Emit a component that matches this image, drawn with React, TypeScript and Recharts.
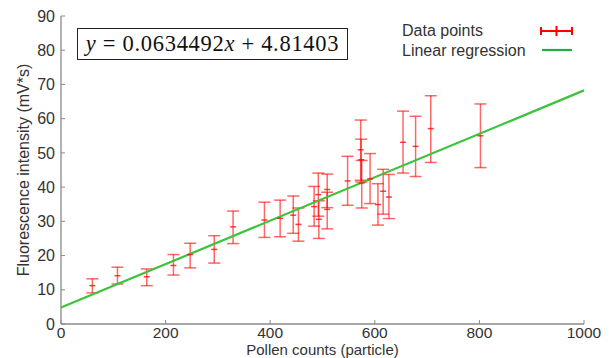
import React from 'react';
import { ComposedChart, Scatter, XAxis, YAxis, ErrorBar } from 'recharts';

const pollenCounts = [60, 108, 164, 215, 247, 293, 329, 389, 419, 444, 454, 484, 492, 493, 509, 509, 548, 573, 574, 575, 591, 606, 616, 627, 654, 678, 707, 802];
const intensity = [11.2, 14.1, 13.8, 17.1, 20.3, 21.8, 28.4, 30.4, 30.9, 31.8, 29.1, 34.3, 37.8, 30.6, 39.3, 33.5, 41.8, 50.9, 48.0, 41.2, 42.4, 34.9, 38.8, 37.1, 53.1, 51.9, 57.1, 55.0];
const errPlus = [2.0, 2.5, 2.3, 3.2, 3.3, 4.0, 4.6, 5.2, 5.3, 5.6, 4.8, 5.9, 6.3, 5.4, 4.5, 5.0, 7.2, 8.7, 6.0, 6.6, 7.4, 6.1, 6.4, 6.6, 9.1, 8.8, 9.6, 9.3];
const errMinus = [2.1, 2.4, 2.6, 2.8, 3.9, 4.0, 4.9, 5.1, 5.4, 5.3, 4.9, 5.7, 6.3, 5.6, 5.3, 5.7, 7.1, 8.9, 6.5, 7.3, 7.2, 6.0, 6.7, 6.3, 9.0, 8.8, 9.9, 9.3];

const regressionX = [0, 1000];
const regressionY = [4.81403, 68.26323];

const xTicks = [0, 200, 400, 600, 800, 1000];
const yTicks = [0, 10, 20, 30, 40, 50, 60, 70, 80, 90];

const points = pollenCounts.map((x, i) => ({ x, y: intensity[i], err: [errMinus[i], errPlus[i]] }));
const regression = regressionX.map((x, i) => ({ x, y: regressionY[i] }));

const FONT = '"Liberation Sans", Arial, sans-serif';
const RED = '#ff0000';
const GREEN = '#3cc23c';
const AXIS = '#8a8a8a';
const TEXT = '#333333';

const yTickStyle = { fontFamily: FONT, fontSize: 16, fill: TEXT };
const xTickStyle = { fontFamily: FONT, fontSize: 15.5, fill: TEXT };

const PointMark = (props: any) => {
  const { cx, cy } = props;
  if (cx == null || cy == null) return <g />;
  return <line x1={cx - 3} x2={cx + 3} y1={cy} y2={cy} stroke={RED} strokeOpacity={0.75} strokeWidth={1.5} />;
};

const NoMark = () => <g />;

export default function App() {
  return (
    <div style={{ position: 'absolute', left: 0, top: 0, width: 611, height: 358, background: '#fff' }}>
      <ComposedChart width={611} height={358} margin={{ top: 16, right: 27, left: 0, bottom: 0 }}>
        <XAxis
          xAxisId="b"
          type="number"
          dataKey="x"
          domain={[0, 1000]}
          ticks={xTicks}
          interval={0}
          height={34}
          axisLine={{ stroke: AXIS, strokeWidth: 1.3 }}
          tickLine={{ stroke: AXIS }}
          tickSize={-4}
          tickMargin={7}
          tick={xTickStyle}
          label={{ value: 'Pollen counts (particle)', position: 'insideBottom', offset: 3, style: { fontFamily: FONT, fontSize: 15, fill: TEXT } }}
        />
        <XAxis
          xAxisId="t"
          orientation="top"
          type="number"
          dataKey="x"
          domain={[0, 1000]}
          ticks={xTicks}
          interval={0}
          height={0}
          axisLine={{ stroke: AXIS, strokeWidth: 1.3 }}
          tickLine={{ stroke: AXIS }}
          tickSize={-4}
          tick={false}
        />
        <YAxis
          yAxisId="l"
          type="number"
          dataKey="y"
          domain={[0, 90]}
          ticks={yTicks}
          interval={0}
          width={61}
          axisLine={{ stroke: AXIS, strokeWidth: 1.3 }}
          tickLine={{ stroke: AXIS }}
          tickSize={-4}
          tickMargin={10}
          tick={yTickStyle}
          label={{ value: 'Fluorescence intensity (mV*s)', angle: -90, position: 'insideLeft', offset: 23, style: { textAnchor: 'middle', fontFamily: FONT, fontSize: 16, fill: TEXT } }}
        />
        <YAxis
          yAxisId="r"
          orientation="right"
          type="number"
          dataKey="y"
          domain={[0, 90]}
          ticks={yTicks}
          interval={0}
          width={0}
          axisLine={{ stroke: AXIS, strokeWidth: 1.3 }}
          tickLine={{ stroke: AXIS }}
          tickSize={-4}
          tick={false}
        />
        <Scatter
          xAxisId="b"
          yAxisId="l"
          dataKey="y"
          data={regression}
          line={{ stroke: GREEN, strokeWidth: 2.2 }}
          shape={NoMark}
          isAnimationActive={false}
          legendType="none"
        />
        <Scatter
          xAxisId="b"
          yAxisId="l"
          dataKey="y"
          data={points}
          shape={PointMark}
          isAnimationActive={false}
        >
          <ErrorBar dataKey="err" direction="y" width={6} stroke={RED} strokeOpacity={0.6} strokeWidth={1.5} />
        </Scatter>
      </ComposedChart>

      <div
        style={{
          position: 'absolute',
          left: 77,
          top: 28,
          width: 269,
          height: 30,
          border: '1.5px solid #222',
          boxSizing: 'content-box',
          display: 'flex',
          alignItems: 'center',
          justifyContent: 'center',
          fontFamily: '"Liberation Serif", "DejaVu Serif", serif',
          fontSize: 22.5,
          letterSpacing: 0.7,
          color: '#111',
          whiteSpace: 'pre',
        }}
      >
        <span><i>y</i> = 0.0634492<i>x</i> + 4.81403</span>
      </div>

      <div style={{ position: 'absolute', left: 402, top: 21, fontFamily: FONT, fontSize: 16, color: TEXT, lineHeight: '19.5px' }}>
        <div style={{ display: 'flex', alignItems: 'center' }}>
          <span style={{ width: 138, display: 'inline-block' }}>Data points</span>
          <svg width={34} height={12} style={{ display: 'block' }}>
            <line x1={1} x2={32} y1={6} y2={6} stroke={RED} strokeWidth={2} />
            <line x1={1} x2={1} y1={2} y2={10} stroke={RED} strokeWidth={2} />
            <line x1={32} x2={32} y1={2} y2={10} stroke={RED} strokeWidth={2} />
            <line x1={16.5} x2={16.5} y1={1} y2={11} stroke={RED} strokeWidth={2} />
          </svg>
        </div>
        <div style={{ display: 'flex', alignItems: 'center' }}>
          <span style={{ width: 138, display: 'inline-block' }}>Linear regression</span>
          <svg width={34} height={12} style={{ display: 'block' }}>
            <line x1={2} x2={32} y1={6} y2={6} stroke="#1fae3f" strokeWidth={2.2} />
          </svg>
        </div>
      </div>
    </div>
  );
}
